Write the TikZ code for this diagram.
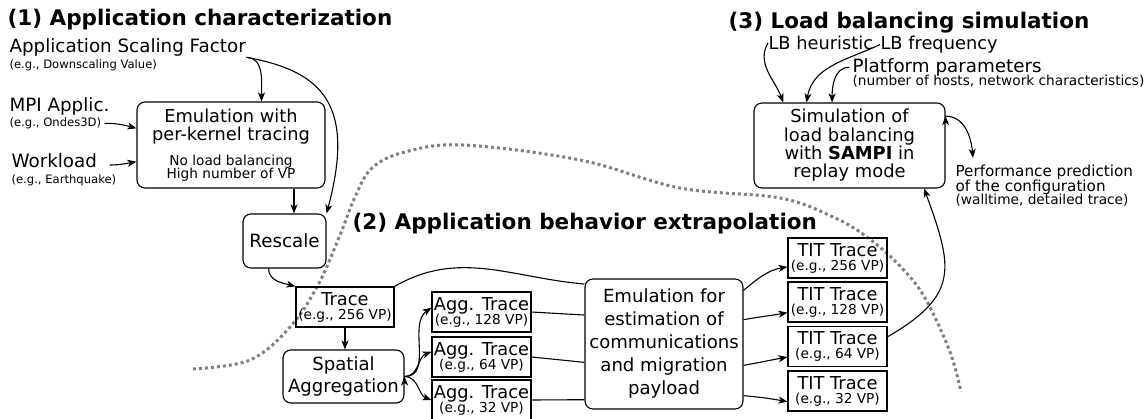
\documentclass[tikz,border=0pt]{standalone}
\usepackage{fontspec}
\setmainfont{DejaVu Sans}
\usetikzlibrary{positioning,arrows.meta,calc}
\newcommand{\mainsz}{\fontsize{18.3}{18}\selectfont}
\newcommand{\smallsz}{\fontsize{13.7}{14}\selectfont}
\newcommand{\tinysz}{\fontsize{11.6}{12}\selectfont}
\newcommand{\titlesz}{\fontsize{21.5}{22}\selectfont\bfseries}
\tikzstyle{stagebox}=[draw,rounded corners=8pt,align=center,inner sep=0pt,font=\mainsz]
\tikzstyle{tracebox}=[draw,align=center,inner sep=0pt,minimum width=99pt,minimum height=40pt,font=\fontsize{17.8}{18}\selectfont]
\tikzstyle{inlabel}=[inner sep=0pt,anchor=base west,font=\mainsz]
\tikzstyle{hintlabel}=[inner sep=0pt,anchor=base west,font=\tinysz]
\tikzstyle{steptitle}=[inner sep=0pt,anchor=base west,font=\titlesz]

\begin{document}
\begin{tikzpicture}[x=1pt,y=1pt,line width=1.1pt,>={Stealth[length=9pt,width=7pt,inset=2.5pt]}]
  \useasboundingbox (0,0) rectangle (1148,-419);
  \draw[black!50,line width=3pt,dash pattern=on 3pt off 3pt]
    plot[smooth,tension=0.6] coordinates {(193,-369) (250,-360) (290,-327) (318,-285)
      (340,-235) (355,-197) (372,-168) (405,-152) (463,-145) (580,-160) (680,-188)
      (780,-198) (833,-217) (867,-237) (900,-266) (925,-298) (950,-352) (961,-392)};

  \node[steptitle] (title1) at (7,-26) {(1) Application characterization};
  \node[steptitle] (title2) at (352,-230) {(2) Application behavior extrapolation};
  \node[steptitle] (title3) at (728,-29) {(3) Load balancing simulation};

  \node[inlabel] (factor) at (9,-53) {Application Scaling Factor};
  \node[hintlabel] (factoreg) at (9,-68.7) {(e.g., Downscaling Value)};
  \node[inlabel] (mpi) at (9,-112) {MPI Applic.};
  \node[hintlabel] (mpieg) at (9,-126.5) {(e.g., Ondes3D)};
  \node[inlabel] (load) at (11,-168) {Workload};
  \node[hintlabel] (loadeg) at (11,-183.7) {(e.g., Earthquake)};

  \node[stagebox,minimum width=188pt,minimum height=86pt,font=\fontsize{17.8}{18}\selectfont] (emul) at (231,-145)
    {Emulation with\\per-kernel tracing\\[7pt]{\smallsz No load balancing}\\[-5.5pt]{\smallsz High number of VP}};
  \node[stagebox,minimum width=83pt,minimum height=54pt] (rescale) at (284.5,-241) {Rescale};
  \node[tracebox,minimum width=98pt] (trace) at (345,-307) {Trace\\[-4pt]{\smallsz (e.g., 256 VP)}};
  \node[stagebox,minimum width=121pt,minimum height=53pt,font=\fontsize{18.1}{22}\selectfont]
    (spatial) at (343.5,-376.5) {Spatial\\Aggregation};
  \node[tracebox] (agg128) at (481.5,-312) {Agg. Trace\\[-4pt]{\smallsz (e.g., 128 VP)}};
  \node[tracebox] (agg64) at (481.5,-357) {Agg. Trace\\[-4pt]{\smallsz (e.g., 64 VP)}};
  \node[tracebox] (agg32) at (481.5,-400) {Agg. Trace\\[-4pt]{\smallsz (e.g., 32 VP)}};
  \node[stagebox,minimum width=158pt,minimum height=130pt,font=\fontsize{18.1}{23}\selectfont]
    (payload) at (664,-344) {Emulation for\\estimation of\\communications\\and migration\\payload};
  \node[tracebox] (tit256) at (837.5,-258) {TIT Trace\\[-4pt]{\smallsz (e.g., 256 VP)}};
  \node[tracebox] (tit128) at (837.5,-302) {TIT Trace\\[-4pt]{\smallsz (e.g., 128 VP)}};
  \node[tracebox] (tit64) at (837.5,-346.5) {TIT Trace\\[-4pt]{\smallsz (e.g., 64 VP)}};
  \node[tracebox] (tit32) at (837.5,-391) {TIT Trace\\[-4pt]{\smallsz (e.g., 32 VP)}};

  \node[stagebox,minimum width=191pt,minimum height=85pt,font=\fontsize{17.9}{18.3}\selectfont]
    (sim) at (849.5,-145.5) {Simulation of\\load balancing\\with \textbf{SAMPI} in\\replay mode};
  \node[inlabel,font=\fontsize{17.8}{18}\selectfont] (lbh) at (768,-49.5) {LB heuristic};
  \node[inlabel,font=\fontsize{17.8}{18}\selectfont] (lbf) at (880,-49.5) {LB frequency};
  \node[inlabel] (platform) at (852,-72.4) {Platform parameters};
  \node[inlabel,font=\smallsz] (platformeg) at (852,-86) {(number of hosts, network characteristics)};
  \node[inlabel,font=\fontsize{15.2}{15}\selectfont] (perf) at (955,-177) {Performance prediction};
  \node[inlabel,font=\fontsize{15.2}{15}\selectfont] (perfconf) at (955,-192) {of the configuration};
  \node[inlabel,font=\smallsz] (perfeg) at (955,-205) {(walltime, detailed trace)};

  \coordinate (drop) at (294,0);

  \path[draw,->]
    (factor.south east) edge[out=0,in=90] (emul.55)
    (factor.south east) edge[out=-10,in=75,out distance=80pt,in distance=110pt] (rescale.north east)
    ([xshift=3pt]mpieg.east) edge[out=0,in=165] (emul.170)
    ([xshift=12pt,yshift=3pt]load.base east) edge[out=0,in=190] (emul.190)
    (drop |- emul.south) edge (drop |- rescale.north)
    (rescale.240) edge[out=270,in=165] (trace.north west)
    (trace.south) edge (trace.south |- spatial.north)
    (spatial.east) edge[out=0,in=215] (agg128.175)
    (spatial.east) edge[out=0,in=200] (agg64.174)
    (spatial.east) edge[out=0,in=160] (agg32.west);

  \path[draw]
    (trace.north east) edge[out=30,in=175] (payload.143)
    (agg128.east) edge (payload.160)
    (agg64.east) edge (payload.193)
    (agg32.east) edge (payload.215);

  \path[draw,->]
    (payload.34) edge[out=40,in=190] (tit256.190)
    (payload.17) edge[out=10,in=190] (tit128.192)
    (payload.345) edge[out=10,in=190] (tit64.192)
    (payload.327) edge[out=-5,in=170] (tit32.192)
    (tit64.11) edge[out=30,in=290,looseness=1.4] (sim.330)
    (lbh.west) edge[out=240,in=110] (sim.147)
    (lbf.west) edge[out=205,in=80] (sim.135)
    ([xshift=-3pt]platform.west) edge[out=180,in=90] (sim.112)
    (sim.17) edge[out=0,in=95] ([xshift=18pt,yshift=7pt]perf.north west);
\end{tikzpicture}
\end{document}
